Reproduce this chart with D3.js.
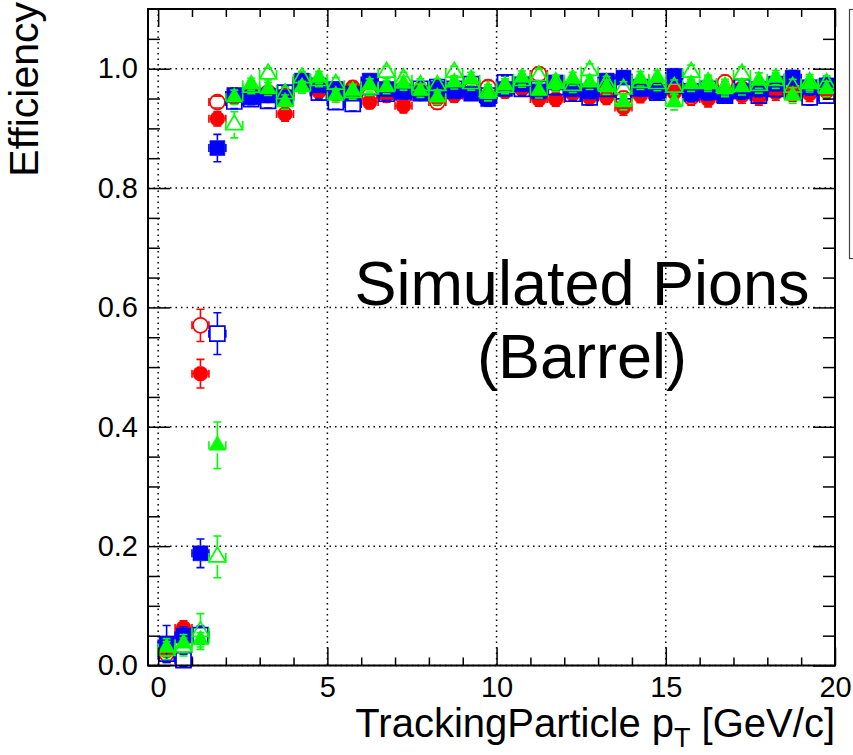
<!DOCTYPE html>
<html>
<head>
<meta charset="utf-8">
<script src="https://cdn.jsdelivr.net/npm/d3@7"></script>
<style>
  body { margin: 0; background: #fff; }
  text { font-family: "Liberation Sans", Arial, Helvetica, sans-serif; fill: #000; }
</style>
</head>
<body>
<div id="chart"></div>
<script>
// Page size and the plot frame (ROOT style canvas)
const width = 853;
const height = 755;
const frame = { left: 148, right: 835, top: 9, bottom: 665.5 };

// bin centres in pT [GeV/c], every bin is 0.5 GeV wide
const ptBins = [0.25, 0.75, 1.25, 1.75, 2.25, 2.75, 3.25, 3.75, 4.25, 4.75,
  5.25, 5.75, 6.25, 6.75, 7.25, 7.75, 8.25, 8.75, 9.25, 9.75,
  10.25, 10.75, 11.25, 11.75, 12.25, 12.75, 13.25, 13.75, 14.25, 14.75,
  15.25, 15.75, 16.25, 16.75, 17.25, 17.75, 18.25, 18.75, 19.25, 19.75];
const binHalfWidth = 0.25;

// efficiencies, one list per marker style
const redFilled = [0.025, 0.063, 0.489, 0.916, 0.952, 0.958, 0.955, 0.924, 0.975, 0.962,
  0.958, 0.969, 0.944, 0.955, 0.938, 0.958, 0.950, 0.955, 0.960, 0.955,
  0.962, 0.966, 0.949, 0.949, 0.958, 0.952, 0.952, 0.935, 0.955, 0.966,
  0.960, 0.955, 0.949, 0.958, 0.955, 0.952, 0.960, 0.962, 0.958, 0.962];
const redFilledErr = [0.018, 0.012, 0.024, 0.012, 0.010, 0.010, 0.011, 0.012, 0.010, 0.010,
  0.011, 0.010, 0.011, 0.011, 0.012, 0.011, 0.011, 0.011, 0.011, 0.011,
  0.011, 0.011, 0.012, 0.012, 0.011, 0.012, 0.012, 0.013, 0.012, 0.012,
  0.012, 0.012, 0.013, 0.012, 0.013, 0.013, 0.013, 0.013, 0.013, 0.013];

const redOpen = [0.020, 0.051, 0.570, 0.944, 0.955, 0.962, 0.960, 0.955, 0.980, 0.965,
  0.960, 0.962, 0.955, 0.958, 0.952, 0.962, 0.944, 0.960, 0.965, 0.969,
  0.966, 0.972, 0.991, 0.975, 0.962, 0.958, 0.960, 0.950, 0.962, 0.960,
  0.966, 0.952, 0.958, 0.977, 0.966, 0.962, 0.966, 0.958, 0.962, 0.966];
const redOpenErr = [0.015, 0.012, 0.027, 0.010, 0.010, 0.010, 0.011, 0.011, 0.010, 0.010,
  0.011, 0.011, 0.011, 0.011, 0.011, 0.011, 0.012, 0.011, 0.011, 0.011,
  0.011, 0.011, 0.011, 0.012, 0.012, 0.012, 0.012, 0.012, 0.012, 0.012,
  0.012, 0.013, 0.013, 0.012, 0.013, 0.013, 0.013, 0.013, 0.013, 0.013];

const blueFilled = [0.037, 0.050, 0.188, 0.867, 0.956, 0.952, 0.955, 0.952, 0.980, 0.972,
  0.966, 0.958, 0.980, 0.966, 0.962, 0.958, 0.966, 0.962, 0.958, 0.949,
  0.966, 0.974, 0.962, 0.977, 0.966, 0.962, 0.980, 0.985, 0.966, 0.962,
  0.988, 0.958, 0.960, 0.955, 0.962, 0.966, 0.975, 0.985, 0.969, 0.972];
const blueFilledErr = [0.030, 0.015, 0.024, 0.023, 0.011, 0.011, 0.011, 0.011, 0.010, 0.010,
  0.011, 0.011, 0.010, 0.011, 0.011, 0.011, 0.011, 0.011, 0.011, 0.012,
  0.011, 0.011, 0.012, 0.011, 0.012, 0.012, 0.011, 0.011, 0.012, 0.012,
  0.011, 0.013, 0.013, 0.013, 0.013, 0.013, 0.012, 0.012, 0.013, 0.013];

const blueOpen = [0.020, 0.009, 0.051, 0.556, 0.945, 0.949, 0.946, 0.960, 0.975, 0.960,
  0.944, 0.941, 0.969, 0.958, 0.962, 0.966, 0.969, 0.966, 0.974, 0.955,
  0.977, 0.966, 0.966, 0.969, 0.958, 0.952, 0.966, 0.962, 0.969, 0.960,
  0.972, 0.962, 0.966, 0.955, 0.969, 0.955, 0.966, 0.962, 0.952, 0.955];
const blueOpenErr = [0.015, 0.010, 0.015, 0.035, 0.012, 0.012, 0.012, 0.011, 0.010, 0.011,
  0.012, 0.012, 0.011, 0.011, 0.011, 0.011, 0.011, 0.011, 0.011, 0.012,
  0.011, 0.011, 0.012, 0.012, 0.012, 0.013, 0.012, 0.012, 0.012, 0.012,
  0.012, 0.013, 0.013, 0.013, 0.013, 0.013, 0.013, 0.013, 0.013, 0.013];

const greenFilled = [0.030, 0.037, 0.043, 0.369, 0.952, 0.974, 0.966, 0.944, 0.969, 0.985,
  0.955, 0.963, 0.972, 0.969, 0.975, 0.963, 0.952, 0.977, 0.983, 0.958,
  0.972, 0.985, 0.963, 0.974, 0.983, 0.977, 0.969, 0.944, 0.983, 0.985,
  0.944, 0.974, 0.974, 0.966, 0.969, 0.980, 0.985, 0.955, 0.974, 0.966];
const greenFilledErr = [0.015, 0.015, 0.012, 0.039, 0.012, 0.010, 0.011, 0.012, 0.010, 0.010,
  0.011, 0.011, 0.011, 0.011, 0.011, 0.011, 0.012, 0.011, 0.011, 0.012,
  0.011, 0.011, 0.012, 0.012, 0.011, 0.012, 0.012, 0.013, 0.012, 0.012,
  0.013, 0.012, 0.012, 0.013, 0.013, 0.013, 0.012, 0.013, 0.013, 0.013];

const greenOpen = [0.025, 0.031, 0.057, 0.182, 0.906, 0.969, 0.991, 0.958, 0.985, 0.980,
  0.974, 0.960, 0.966, 0.994, 0.983, 0.972, 0.972, 0.994, 0.975, 0.962,
  0.969, 0.980, 0.988, 0.977, 0.972, 0.997, 0.975, 0.966, 0.977, 0.975,
  0.969, 0.994, 0.977, 0.969, 0.991, 0.972, 0.980, 0.969, 0.977, 0.975];
const greenOpenErr = [0.015, 0.015, 0.030, 0.035, 0.022, 0.011, 0.010, 0.011, 0.010, 0.010,
  0.011, 0.011, 0.011, 0.010, 0.011, 0.011, 0.011, 0.010, 0.011, 0.011,
  0.011, 0.011, 0.011, 0.012, 0.012, 0.011, 0.012, 0.012, 0.012, 0.012,
  0.012, 0.012, 0.012, 0.013, 0.012, 0.013, 0.013, 0.013, 0.013, 0.013];

// axis ticks
const xTicks = [0, 5, 10, 15, 20];
const xMinorTicks = [1, 2, 3, 4, 6, 7, 8, 9, 11, 12, 13, 14, 16, 17, 18, 19];
const yTicks = [0.0, 0.2, 0.4, 0.6, 0.8, 1.0];
const yMinorTicks = [0.05, 0.1, 0.15, 0.25, 0.3, 0.35, 0.45, 0.5, 0.55, 0.65, 0.7, 0.75,
  0.85, 0.9, 0.95, 1.05];

// marker styles for each list (ROOT 20/24 circles, 21/25 squares, 22/26 triangles)
const series = [
  { values: redFilled, errors: redFilledErr, color: "#ff0000", shape: "circle", filled: true },
  { values: redOpen, errors: redOpenErr, color: "#ff0000", shape: "circle", filled: false },
  { values: blueFilled, errors: blueFilledErr, color: "#0000ff", shape: "square", filled: true },
  { values: blueOpen, errors: blueOpenErr, color: "#0000ff", shape: "square", filled: false },
  { values: greenOpen, errors: greenOpenErr, color: "#00ff00", shape: "triangle", filled: false },
  { values: greenFilled, errors: greenFilledErr, color: "#00ff00", shape: "triangle", filled: true }
];

const x = d3.scaleLinear().domain([-0.3, 20]).range([frame.left, frame.right]);
const y = d3.scaleLinear().domain([0, 1.1]).range([frame.bottom, frame.top]);

const svg = d3.select("#chart")
  .append("svg")
  .attr("width", width)
  .attr("height", height);

// dotted grid at the major ticks
const grid = svg.append("g")
  .attr("stroke", "#000")
  .attr("stroke-width", 1.5)
  .attr("stroke-dasharray", "1.5,4");

grid.selectAll(".gx")
  .data(xTicks)
  .enter()
  .append("line")
  .attr("x1", d => x(d)).attr("x2", d => x(d))
  .attr("y1", frame.top).attr("y2", frame.bottom);

grid.selectAll(".gy")
  .data(yTicks)
  .enter()
  .append("line")
  .attr("x1", frame.left).attr("x2", frame.right)
  .attr("y1", d => y(d)).attr("y2", d => y(d));

// half size of a marker, error bars stop at its edge
const markerHalf = { circle: 7.5, square: 7.5, triangle: 8 };
const symbolSize = { circle: Math.PI * 7.5 * 7.5, square: 15 * 15, triangle: 125 };
const symbolType = { circle: d3.symbolCircle, square: d3.symbolSquare, triangle: d3.symbolTriangle };
const cap = 4;

series.forEach(function(s) {
  const pts = ptBins.map((p, i) => ({ pt: p, px: x(p), py: y(s.values[i]), yt: y(s.values[i] + s.errors[i]) }));
  const half = markerHalf[s.shape];
  const g = svg.append("g");

  // error bars with end caps (ROOT E1 style)
  g.append("g")
    .attr("stroke", s.color)
    .attr("stroke-width", 1.6)
    .attr("fill", "none")
    .selectAll("path")
    .data(pts)
    .enter()
    .append("path")
    .attr("d", function(d) {
      const xl = x(d.pt - binHalfWidth), xr = x(d.pt + binHalfWidth);
      const yb = d.py + (d.py - d.yt);
      let p = "";
      // horizontal bar
      p += "M" + xl + "," + d.py + "H" + (d.px - half);
      p += "M" + (d.px + half) + "," + d.py + "H" + xr;
      p += "M" + xl + "," + (d.py - cap) + "V" + (d.py + cap);
      p += "M" + xr + "," + (d.py - cap) + "V" + (d.py + cap);
      // vertical bar
      if (d.py - d.yt > half) {
        p += "M" + d.px + "," + d.yt + "V" + (d.py - half);
        p += "M" + d.px + "," + (d.py + half) + "V" + yb;
      }
      p += "M" + (d.px - cap) + "," + d.yt + "H" + (d.px + cap);
      p += "M" + (d.px - cap) + "," + yb + "H" + (d.px + cap);
      return p;
    });

  // markers
  g.selectAll(".marker")
    .data(pts)
    .enter()
    .append("path")
    .attr("class", "marker")
    .attr("transform", d => "translate(" + d.px + "," + d.py + ")")
    .attr("d", d3.symbol().type(symbolType[s.shape]).size(symbolSize[s.shape]))
    .attr("fill", s.filled ? s.color : "none")
    .attr("stroke", s.color)
    .attr("stroke-width", s.filled ? 0.5 : 1.7);
});

// frame
svg.append("rect")
  .attr("x", frame.left)
  .attr("y", frame.top)
  .attr("width", frame.right - frame.left)
  .attr("height", frame.bottom - frame.top)
  .attr("fill", "none")
  .attr("stroke", "#000")
  .attr("stroke-width", 2);

// ticks on all four sides, pointing inwards
function drawAxis(axis, tx, ty) {
  const a = svg.append("g")
    .attr("transform", "translate(" + tx + "," + ty + ")")
    .call(axis);
  a.select(".domain").remove();
  a.selectAll("line").attr("stroke", "#000").attr("stroke-width", 1.5);
  a.selectAll("text")
    .style("font-family", "\"Liberation Sans\", Arial, sans-serif")
    .style("font-size", "29px")
    .attr("fill", "#000");
  return a;
}

drawAxis(d3.axisBottom(x).tickValues(xTicks).tickSizeInner(-18).tickSizeOuter(0)
  .tickPadding(11).tickFormat(d3.format("d")), 0, frame.bottom);
drawAxis(d3.axisBottom(x).tickValues(xMinorTicks).tickSizeInner(-8).tickSizeOuter(0)
  .tickFormat(""), 0, frame.bottom);
drawAxis(d3.axisTop(x).tickValues(xTicks).tickSizeInner(-18).tickSizeOuter(0)
  .tickFormat(""), 0, frame.top);
drawAxis(d3.axisTop(x).tickValues(xMinorTicks).tickSizeInner(-8).tickSizeOuter(0)
  .tickFormat(""), 0, frame.top);

drawAxis(d3.axisLeft(y).tickValues(yTicks).tickSizeInner(-22).tickSizeOuter(0)
  .tickPadding(10).tickFormat(d3.format(".1f")), frame.left, 0);
drawAxis(d3.axisLeft(y).tickValues(yMinorTicks).tickSizeInner(-12).tickSizeOuter(0)
  .tickFormat(""), frame.left, 0);
drawAxis(d3.axisRight(y).tickValues(yTicks).tickSizeInner(-22).tickSizeOuter(0)
  .tickFormat(""), frame.right, 0);
drawAxis(d3.axisRight(y).tickValues(yMinorTicks).tickSizeInner(-12).tickSizeOuter(0)
  .tickFormat(""), frame.right, 0);

// axis titles
const xTitle = svg.append("text")
  .attr("x", frame.right)
  .attr("y", 737)
  .attr("text-anchor", "end")
  .style("font-size", "40px");
xTitle.append("tspan").text("TrackingParticle p");
xTitle.append("tspan").attr("dy", 10).style("font-size", "27px").text("T");
xTitle.append("tspan").attr("dy", -10).text(" [GeV/c]");

svg.append("text")
  .attr("transform", "translate(38,2) rotate(-90)")
  .attr("text-anchor", "end")
  .style("font-size", "41px")
  .text("Efficiency");

// label inside the plot
svg.append("text")
  .attr("x", 582)
  .attr("y", 305)
  .attr("text-anchor", "middle")
  .style("font-size", "63px")
  .text("Simulated Pions");

svg.append("text")
  .attr("x", 582)
  .attr("y", 378)
  .attr("text-anchor", "middle")
  .style("font-size", "63px")
  .text("(Barrel)");

// legend box, cut off at the right border of the picture
svg.append("rect")
  .attr("x", 849.5)
  .attr("y", 9.5)
  .attr("width", 30)
  .attr("height", 249)
  .attr("fill", "#fff")
  .attr("stroke", "#444")
  .attr("stroke-width", 1.2);
</script>
</body>
</html>
